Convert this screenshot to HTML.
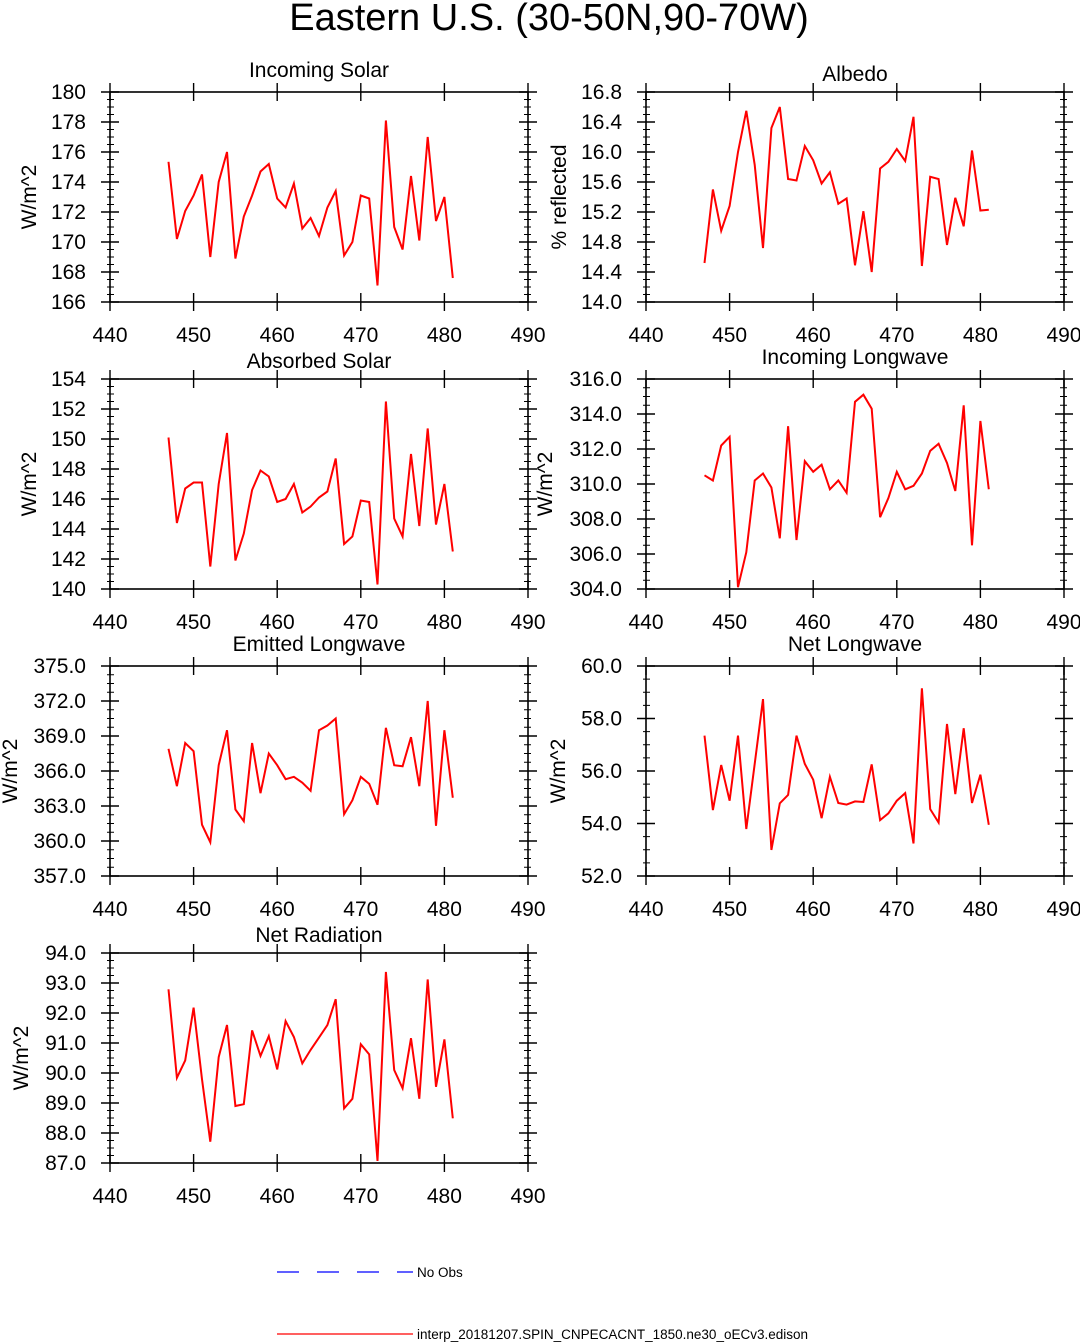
<!DOCTYPE html>
<html><head><meta charset="utf-8"><style>
body{margin:0;background:#fff;}
svg{display:block;font-family:"Liberation Sans",sans-serif;}
</style></head><body>
<svg id="chart" width="1080" height="1343" viewBox="0 0 1080 1343" xmlns="http://www.w3.org/2000/svg">
<text x="549" y="30" font-size="38" text-anchor="middle">Eastern U.S. (30-50N,90-70W)</text>
<g id="panels"></g>
<g>
<line x1="277" y1="1272" x2="413" y2="1272" stroke="#0000ff" stroke-width="1.2" stroke-dasharray="22,18"/>
<text x="417" y="1277" font-size="13.5">No Obs</text>
<line x1="277" y1="1334" x2="413" y2="1334" stroke="#ff0000" stroke-width="1.2"/>
<text x="417" y="1339" font-size="13.5">interp_20181207.SPIN_CNPECACNT_1850.ne30_oECv3.edison</text>
</g>
</svg>
<script>
const years = [447,448,449,450,451,452,453,454,455,456,457,458,459,460,461,462,463,464,465,466,467,468,469,470,471,472,473,474,475,476,477,478,479,480,481];
const xTicks = [440,450,460,470,480,490];
const incomingSolar = [175.35,170.2,172.07,173.1,174.5,169.0,174.0,176.0,168.9,171.7,173.1,174.7,175.2,172.9,172.3,173.9,170.9,171.6,170.4,172.3,173.4,169.1,170.0,173.1,172.9,167.1,178.1,171.0,169.5,174.4,170.1,177.0,171.4,173.0,167.6];
const albedo = [14.52,15.50,14.95,15.28,16.0,16.55,15.83,14.72,16.32,16.60,15.64,15.62,16.08,15.89,15.58,15.73,15.31,15.38,14.49,15.21,14.40,15.78,15.87,16.04,15.88,16.47,14.48,15.67,15.64,14.76,15.39,15.01,16.02,15.22,15.23];
const absorbedSolar = [150.1,144.4,146.7,147.1,147.1,141.5,147.0,150.4,141.9,143.7,146.6,147.9,147.5,145.8,146.0,147.0,145.1,145.5,146.1,146.5,148.7,143.0,143.5,145.9,145.8,140.3,152.5,144.7,143.5,149.0,144.2,150.7,144.3,147.0,142.5];
const incomingLW = [310.5,310.2,312.2,312.7,304.1,306.1,310.2,310.6,309.8,306.9,313.3,306.8,311.3,310.7,311.1,309.7,310.2,309.5,314.7,315.1,314.3,308.1,309.2,310.7,309.7,309.9,310.6,311.9,312.3,311.2,309.6,314.5,306.5,313.6,309.7];
const emittedLW = [367.9,364.7,368.4,367.7,361.4,359.9,366.5,369.5,362.7,361.7,368.4,364.1,367.5,366.5,365.3,365.5,365.0,364.3,369.5,369.9,370.5,362.3,363.5,365.5,364.9,363.1,369.7,366.5,366.4,368.9,364.7,372.0,361.3,369.5,363.7];
const netLW = [57.35,54.51,56.23,54.87,57.35,53.79,56.27,58.74,52.99,54.77,55.09,57.35,56.27,55.67,54.2,55.78,54.78,54.72,54.84,54.82,56.25,54.13,54.39,54.87,55.16,53.24,59.15,54.55,54.04,57.79,55.12,57.63,54.78,55.86,53.95];
const netRadiation = [92.79,89.84,90.42,92.18,89.79,87.71,90.53,91.6,88.9,88.96,91.42,90.57,91.23,90.12,91.73,91.2,90.32,90.77,91.18,91.6,92.46,88.82,89.14,90.96,90.62,87.07,93.37,90.1,89.49,91.16,89.14,93.12,89.54,91.12,88.49];

const panels = [
 {name:'incoming-solar',title:'Incoming Solar',ylab:'W/m^2',data:incomingSolar,x:110,y:92,min:166,max:180,step:2,minor:0.5,dec:0,tx:319,ty:77,lx:36},
 {name:'albedo',title:'Albedo',ylab:'% reflected',data:albedo,x:646,y:92,min:14.0,max:16.8,step:0.4,minor:0.1,dec:1,tx:855,ty:81,lx:566},
 {name:'absorbed-solar',title:'Absorbed Solar',ylab:'W/m^2',data:absorbedSolar,x:110,y:379,min:140,max:154,step:2,minor:0.5,dec:0,tx:319,ty:368,lx:36},
 {name:'incoming-longwave',title:'Incoming Longwave',ylab:'W/m^2',data:incomingLW,x:646,y:379,min:304,max:316,step:2,minor:0.5,dec:1,tx:855,ty:364,lx:552},
 {name:'emitted-longwave',title:'Emitted Longwave',ylab:'W/m^2',data:emittedLW,x:110,y:666,min:357,max:375,step:3,minor:0.75,dec:1,tx:319,ty:651,lx:17},
 {name:'net-longwave',title:'Net Longwave',ylab:'W/m^2',data:netLW,x:646,y:666,min:52,max:60,step:2,minor:0.5,dec:1,tx:855,ty:651,lx:565},
 {name:'net-radiation',title:'Net Radiation',ylab:'W/m^2',data:netRadiation,x:110,y:953,min:87,max:94,step:1,minor:0.25,dec:1,tx:319,ty:942,lx:28}
];
const W=418,H=210;
const NS='http://www.w3.org/2000/svg';
const root=document.getElementById('panels');
function mk(tag,attrs,parent){const e=document.createElementNS(NS,tag);for(const k in attrs)e.setAttribute(k,attrs[k]);parent.appendChild(e);return e;}
panels.forEach(p=>{
 const g=mk('g',{},root);
 
 
 const xs=v=>p.x+(v-440)/50*W;
 const ys=v=>p.y+H-(v-p.min)/(p.max-p.min)*H;
 const fr=mk('rect',{x:p.x,y:p.y,width:W,height:H,fill:'none',stroke:'#000','stroke-width':1.6},g);
 
 
 const nMin=Math.round((p.max-p.min)/p.minor);
 for(let i=0;i<=nMin;i++){
  const yy=ys(p.min+i*p.minor);
  mk('line',{x1:p.x-3,y1:yy,x2:p.x+4,y2:yy,stroke:'#000','stroke-width':1},g);
  mk('line',{x1:p.x+W-4,y1:yy,x2:p.x+W+3,y2:yy,stroke:'#000','stroke-width':1},g);
 }
 const nMaj=Math.round((p.max-p.min)/p.step);
 for(let i=0;i<=nMaj;i++){
  const v=p.min+i*p.step, yy=ys(v);
  mk('line',{x1:p.x-9,y1:yy,x2:p.x+9,y2:yy,stroke:'#000','stroke-width':1.4},g);
  mk('line',{x1:p.x+W-9,y1:yy,x2:p.x+W+9,y2:yy,stroke:'#000','stroke-width':1.4},g);
  const t=mk('text',{x:p.x-24,y:yy+7,'font-size':21,'text-anchor':'end'},g);
  
  
  t.textContent=v.toFixed(p.dec);
 }
 xTicks.forEach(v=>{
  const xx=xs(v);
  mk('line',{x1:xx,y1:p.y+H-9,x2:xx,y2:p.y+H+9,stroke:'#000','stroke-width':1.4},g);
  mk('line',{x1:xx,y1:p.y-9,x2:xx,y2:p.y+9,stroke:'#000','stroke-width':1.4},g);
  const t=mk('text',{x:xx,y:p.y+H+40,'font-size':21,'text-anchor':'middle'},g);
  
  
  t.textContent=v;
 });
 const tt=mk('text',{x:p.tx,y:p.ty,'font-size':21,'text-anchor':'middle'},g);
 
 
 tt.textContent=p.title;
 const cy=p.y+H/2;
 const yl=mk('text',{x:p.lx,y:cy,'font-size':21,'text-anchor':'middle',transform:'rotate(-90 '+p.lx+' '+cy+')'},g);
 
 
 yl.textContent=p.ylab;
 const pts=p.data.map((v,i)=>xs(years[i]).toFixed(1)+','+ys(v).toFixed(1)).join(' ');
 const ln=mk('polyline',{points:pts,fill:'none',stroke:'#ff0000','stroke-width':2,'stroke-linejoin':'miter'},g);
 
 
});
</script>
</body></html>
